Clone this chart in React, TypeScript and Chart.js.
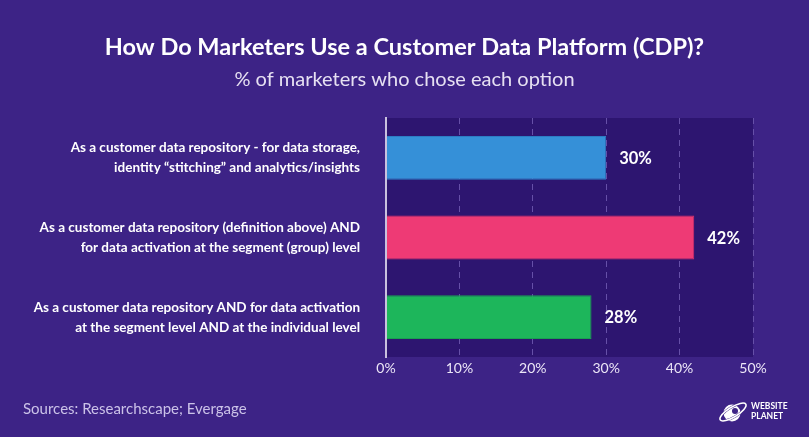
import React, { useEffect, useRef } from "react";
import { Chart, registerables } from "chart.js";

Chart.register(...registerables);

const categories: string[][] = [
  ["As a customer data repository - for data storage,", "identity “stitching” and analytics/insights"],
  ["As a customer data repository (definition above) AND", "for data activation at the segment (group) level"],
  ["As a customer data repository AND for data activation", "at the segment level AND at the individual level"],
];
const values: number[] = [30, 42, 28];
const barColors: string[] = ["#3590d8", "#ee3a75", "#1db65b"];
const barBorders: string[] = ["#2c7cc4", "#d92f68", "#19a04f"];
const xMin = 0;
const xMax = 50;
const xStep = 10;
const titleText = "How Do Marketers Use a Customer Data Platform (CDP)?";
const subtitleText = "% of marketers who chose each option";
const sourceText = "Sources: Researchscape; Evergage";
const logoLines = ["WEBSITE", "PLANET"];

const OUTER_BG = "#3d2386";
const PLOT_BG = "#2d1570";
const FONT = "Lato, 'Open Sans', sans-serif";

const decorPlugin = {
  id: "decor",
  beforeDraw(chart: any) {
    const { ctx, width, height, chartArea } = chart;
    ctx.save();
    ctx.fillStyle = OUTER_BG;
    ctx.fillRect(0, 0, width, height);
    ctx.fillStyle = PLOT_BG;
    ctx.fillRect(chartArea.left, chartArea.top, chartArea.right - chartArea.left, chartArea.bottom - chartArea.top);
    ctx.restore();
  },
  afterDraw(chart: any) {
    const { ctx, width } = chart;
    ctx.save();
    ctx.textAlign = "center";
    ctx.textBaseline = "middle";
    ctx.fillStyle = "#ffffff";
    ctx.font = `bold 23.5px ${FONT}`;
    ctx.fillText(titleText, width / 2, 47);
    ctx.fillStyle = "#e6e0f2";
    ctx.font = `20px ${FONT}`;
    ctx.fillText(subtitleText, width / 2, 80);

    ctx.textAlign = "left";
    ctx.fillStyle = "#cbc2e8";
    ctx.font = `15px ${FONT}`;
    ctx.fillText(sourceText, 23, 409);

    // logo icon
    ctx.fillStyle = "#ffffff";
    ctx.beginPath();
    ctx.arc(732, 413, 8.5, 0, Math.PI * 2);
    ctx.fill();
    ctx.lineWidth = 2.5;
    ctx.strokeStyle = OUTER_BG;
    ctx.beginPath();
    ctx.ellipse(733, 412, 15, 5, -0.55, 0, Math.PI * 2);
    ctx.stroke();
    ctx.lineWidth = 1.6;
    ctx.strokeStyle = "#ffffff";
    ctx.beginPath();
    ctx.ellipse(733, 412, 15, 5, -0.55, 0, Math.PI * 2);
    ctx.stroke();
    ctx.fillStyle = OUTER_BG;
    ctx.beginPath();
    ctx.arc(735, 411, 3, 0, Math.PI * 2);
    ctx.fill();

    ctx.fillStyle = "#ffffff";
    ctx.font = `bold 8.5px ${FONT}`;
    ctx.textBaseline = "middle";
    ctx.fillText(logoLines[0], 751, 406);
    ctx.fillText(logoLines[1], 751, 416);
    ctx.restore();
  },
  afterDatasetsDraw(chart: any) {
    const { ctx } = chart;
    const meta = chart.getDatasetMeta(0);
    ctx.save();
    ctx.fillStyle = "#ffffff";
    ctx.font = `bold 16.5px ${FONT}`;
    ctx.textAlign = "left";
    ctx.textBaseline = "middle";
    meta.data.forEach((bar: any, i: number) => {
      ctx.fillText(values[i] + "%", bar.x + 13, bar.y + 1);
    });
    ctx.restore();
  },
};

export default function App() {
  const ref = useRef<HTMLCanvasElement | null>(null);
  useEffect(() => {
    document.body.style.margin = "0";
    const canvas = ref.current;
    if (!canvas) return;
    const chart = new Chart(canvas, {
      type: "bar",
      data: {
        labels: categories as any,
        datasets: [
          {
            data: values,
            backgroundColor: barColors,
            borderColor: barBorders,
            borderWidth: 1,
            barPercentage: 0.55,
            categoryPercentage: 1,
          },
        ],
      },
      options: {
        indexAxis: "y",
        responsive: false,
        animation: false,
        events: [],
        layout: { padding: { top: 118, right: 56, left: 0, bottom: 0 } },
        plugins: {
          legend: { display: false },
          title: { display: false },
          tooltip: { enabled: false },
        },
        scales: {
          x: {
            min: xMin,
            max: xMax,
            afterFit: (scale: any) => {
              scale.height = 80;
            },
            ticks: {
              stepSize: xStep,
              padding: 3,
              color: "#ece6f7",
              font: { family: FONT, size: 14 },
              callback: (v: any) => v + "%",
            },
            grid: {
              drawTicks: false,
              lineWidth: 1,
              color: (ctx: any) => (ctx.index === 0 ? "rgba(0,0,0,0)" : "#6650a8"),
            },
            border: { display: false, dash: [6, 5] },
          },
          y: {
            afterFit: (scale: any) => {
              scale.width = 386;
            },
            ticks: {
              padding: 26,
              color: "#ffffff",
              font: { family: FONT, size: 13.5, weight: "bold", lineHeight: 1.48 },
            },
            grid: { display: false, drawTicks: false },
            border: { display: true, color: "#c9c1de", width: 2, z: 1 },
          },
        },
      } as any,
      plugins: [decorPlugin],
    });
    return () => chart.destroy();
  }, []);
  return (
    <div style={{ width: 809, height: 437, background: OUTER_BG }}>
      <canvas ref={ref} width={809} height={437} style={{ display: "block" }} />
    </div>
  );
}
